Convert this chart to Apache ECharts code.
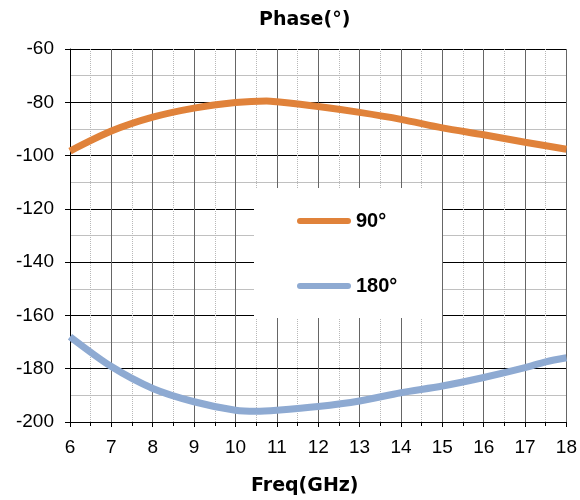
<!DOCTYPE html>
<html>
<head>
<meta charset="utf-8">
<script src="https://cdn.jsdelivr.net/npm/echarts@6/dist/echarts.min.js"></script>
<style>
  html, body { margin: 0; padding: 0; background: #fff; }
  #main { width: 580px; height: 500px; }
</style>
</head>
<body>
<div id="main"></div>
<script>
// 相位数据
const freq90 = [6, 7, 8, 9, 10, 10.75, 11, 12, 13, 14, 15, 16, 17, 18];
const phase90 = [-98.3, -90.8, -85.6, -82.2, -80.1, -79.5, -79.8, -81.6, -83.8, -86.4, -89.6, -92.2, -95, -97.6];
const freq180 = [6, 7, 8, 9, 10, 10.5, 11, 12, 13, 14, 15, 16, 17, 17.5, 18];
const phase180 = [-168, -179.2, -187.4, -192.4, -195.6, -196, -195.6, -194.2, -192.1, -189, -186.5, -183.3, -179.6, -177.4, -175.9];
const seriesNames = ['90°', '180°'];

const myChart = echarts.init(document.getElementById('main'));

const pair = (xs, ys) => xs.map((x, i) => [x, ys[i]]);
const labelFont = 'Liberation Sans, Arial, sans-serif';

option = {
	backgroundColor: '#fff',
	animation: false,
	title: [{
		text: 'Phase(°)',
		left: 254,
		top: 6,
		textStyle: { fontFamily: 'DejaVu Sans', fontWeight: 'bold', fontSize: 19, color: '#000' }
	}, {
		text: 'Freq(GHz)',
		left: 246,
		top: 472,
		textStyle: { fontFamily: 'DejaVu Sans', fontWeight: 'bold', fontSize: 19, color: '#000' }
	}],
	grid: { left: 70, right: 13, top: 49, bottom: 78 },
	legend: {
		orient: 'vertical',
		left: 292,
		top: 206,
		itemGap: 45,
		itemWidth: 54,
		itemHeight: 6,
		z: 5,
		icon: 'path://M3,0 L51,0 A3,3 0 0 1 51,6 L3,6 A3,3 0 0 1 3,0 Z',
		data: seriesNames,
		textStyle: { fontFamily: labelFont, fontWeight: 'bold', fontSize: 20, color: '#000' }
	},
	graphic: [{
		type: 'rect',
		z: 1,
		shape: { x: 254, y: 188, width: 188, height: 130 },
		style: { fill: '#fff' }
	}],
	xAxis: {
		type: 'value',
		min: 6,
		max: 18,
		interval: 1,
		axisLine: { lineStyle: { color: '#000', width: 1 } },
		axisTick: { inside: false, length: 5, lineStyle: { color: '#000' } },
		minorTick: { show: true, splitNumber: 2, length: 4, lineStyle: { color: '#000' } },
		axisLabel: { margin: 16, fontFamily: labelFont, fontSize: 19, color: '#000' },
		splitLine: { show: true, lineStyle: { color: '#666', width: 1 } },
		minorSplitLine: { show: true, lineStyle: { color: '#b8b8b8', type: 'dotted', width: 1 } }
	},
	yAxis: {
		type: 'value',
		min: -200,
		max: -60,
		interval: 20,
		axisLine: { show: true, lineStyle: { color: '#000', width: 1 } },
		axisTick: { show: true, inside: false, length: 5, lineStyle: { color: '#000' } },
		minorTick: { show: false, splitNumber: 2 },
		axisLabel: { margin: 16, fontFamily: labelFont, fontSize: 19, color: '#000' },
		splitLine: { show: true, lineStyle: { color: '#000', width: 1 } },
		minorSplitLine: { show: true, lineStyle: { color: '#c0c0c0', width: 1 } }
	},
	series: [{
		name: seriesNames[0],
		type: 'line',
		smooth: 0.3,
		symbol: 'none',
		color: '#e0823a',
		lineStyle: { width: 7, color: '#e0823a' },
		data: pair(freq90, phase90)
	}, {
		name: seriesNames[1],
		type: 'line',
		smooth: 0.3,
		symbol: 'none',
		color: '#8eaad2',
		lineStyle: { width: 7, color: '#8eaad2' },
		data: pair(freq180, phase180)
	}]
};

myChart.setOption(option);
</script>
</body>
</html>
